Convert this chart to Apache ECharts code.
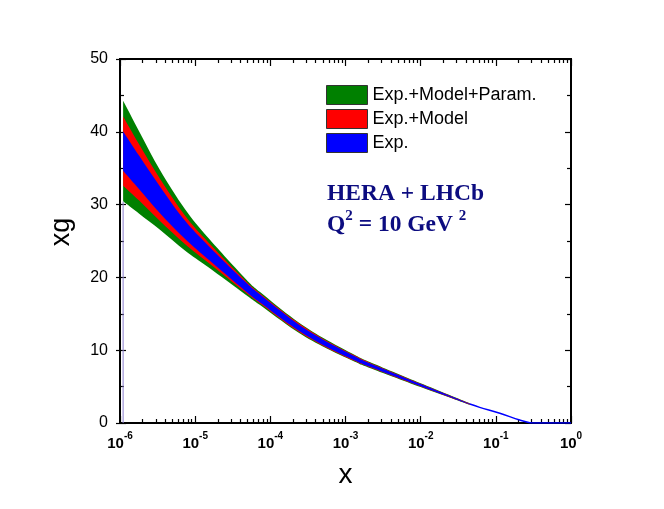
<!DOCTYPE html>
<html>
<head>
<meta charset="utf-8">
<script src="https://cdn.jsdelivr.net/npm/echarts@6/dist/echarts.min.js"></script>
<style>html,body{margin:0;padding:0;background:#fff}#c{width:664px;height:509px}</style>
</head>
<body>
<div id="c"></div>
<script>
// ---- data ----
const bandX   = [1.1e-6, 1.8e-6, 3.4e-6, 7.3e-6, 1.5e-5, 4.6e-5, 7.3e-5, 2.1e-4, 5e-4, 1.33e-3, 2.1e-3, 1e-2, 4.5e-2];
const center  = [37.35, 34.4, 30.65, 26.55, 23.4, 18.8, 17.1, 13.5, 11.1, 8.88, 7.97, 5.2, 2.6];
const hwExp   = [2.7, 2.3, 1.85, 1.25, 0.95, 0.62, 0.55, 0.45, 0.38, 0.3, 0.25, 0.15, 0.05];
const hwModel = [4.75, 3.85, 2.9, 1.95, 1.4, 0.82, 0.7, 0.6, 0.48, 0.38, 0.32, 0.2, 0.08];
const hwParam = [6.9, 5.65, 4.1, 2.85, 2.0, 1.1, 0.9, 0.73, 0.6, 0.46, 0.4, 0.25, 0.1];
const tailX   = [4.5e-2, 6.1e-2, 0.113, 0.208, 0.283, 0.35, 1];
const tailY   = [2.6, 2.15, 1.35, 0.4, 0.05, 0, 0];
const edgeX   = [1.1e-6, 1.1e-6];
const edgeY   = [0, 30.4];
const bandNames = ['Exp.+Model+Param.', 'Exp.+Model', 'Exp.'];
const bandColors = ['#008000', '#ff0000', '#0000ff'];
const xDecades = [1e-6, 1e-5, 1e-4, 1e-3, 1e-2, 1e-1, 1];
const xMinor = [];
for (let e = -6; e < 0; e++) for (let k = 2; k <= 9; k++) xMinor.push(k * Math.pow(10, e));

// ---- helpers: smooth path through pixel points (Catmull-Rom -> Bezier) ----
function curvePath(pts, moveFirst) {
  let d = (moveFirst ? 'M' : 'L') + pts[0][0] + ' ' + pts[0][1];
  for (let i = 0; i < pts.length - 1; i++) {
    const p0 = pts[i - 1] || pts[i], p1 = pts[i], p2 = pts[i + 1], p3 = pts[i + 2] || pts[i + 1];
    const t = 1 / 6;
    const c1 = [p1[0] + (p2[0] - p0[0]) * t, p1[1] + (p2[1] - p0[1]) * t];
    const c2 = [p2[0] - (p3[0] - p1[0]) * t, p2[1] - (p3[1] - p1[1]) * t];
    d += 'C' + c1[0] + ' ' + c1[1] + ' ' + c2[0] + ' ' + c2[1] + ' ' + p2[0] + ' ' + p2[1];
  }
  return d;
}

// ---- build ----
const hws = [hwParam, hwModel, hwExp];
const series = [];
hws.forEach((hw, i) => {
  const rows = bandX.map((x, j) => [x, center[j] - hw[j], center[j] + hw[j]]);
  series.push({
    name: bandNames[i], type: 'custom', color: bandColors[i], silent: true, z: 2 + i, clip: true,
    encode: { x: 0, y: [1, 2] },
    data: rows,
    renderItem: function (params, api) {
      if (params.dataIndex !== 0) return null;
      const up = rows.map(r => api.coord([r[0], r[2]]));
      const lo = rows.map(r => api.coord([r[0], r[1]])).reverse();
      const d = curvePath(up, true) + curvePath(lo, false) + 'Z';
      return { type: 'path', shape: { pathData: d }, style: { fill: bandColors[i], stroke: null } };
    }
  });
});
series.push({
  name: 'tail', type: 'line', symbol: 'none', smooth: 0.4, silent: true,
  lineStyle: { color: '#0000ff', width: 1.5 }, data: tailX.map((x, j) => [x, tailY[j]]), z: 6
});
series.push({
  name: 'edge', type: 'line', symbol: 'none', silent: true,
  lineStyle: { color: '#8c7fd0', width: 1 }, data: edgeX.map((x, j) => [x, edgeY[j]]), z: 6
});

const lineStyle = { color: '#000', width: 2 };
function xAx(pos, major, labels) {
  return {
    type: 'log', logBase: 10, min: 1e-6, max: 1, position: pos,
    axisLine: { show: true, onZero: false, lineStyle: lineStyle },
    splitLine: { show: false },
    axisTick: { show: true, inside: true, length: major ? 7 : 4, lineStyle: { color: '#000', width: 1.2 },
                customValues: major ? xDecades : xMinor },
    axisLabel: labels ? {
      show: true, margin: 8, customValues: xDecades,
      formatter: v => '{b|10}{e|' + Math.round(Math.log10(v)) + '}',
      rich: {
        b: { fontFamily: 'Liberation Sans', fontWeight: 'bold', fontSize: 15, color: '#000', lineHeight: 20, verticalAlign: 'bottom' },
        e: { fontFamily: 'Liberation Sans', fontWeight: 'bold', fontSize: 10, color: '#000', lineHeight: 11, verticalAlign: 'top' }
      }
    } : { show: false }
  };
}
function yAx(pos, labels, outTicks) {
  return {
    type: 'value', min: 0, max: 50, interval: 10, position: pos,
    axisLine: { show: !outTicks, onZero: false, lineStyle: lineStyle },
    splitLine: { show: false },
    axisTick: { show: true, inside: !outTicks, length: outTicks ? 4 : 6, lineStyle: { color: '#000', width: 1.2 } },
    minorTick: { show: !outTicks, splitNumber: 2, length: 4, lineStyle: { color: '#000', width: 1.2 } },
    axisLabel: labels ? { show: true, margin: 12, fontFamily: 'Liberation Sans', fontSize: 16, color: '#000' } : { show: false },
    name: labels ? 'xg' : '', nameLocation: 'middle', nameRotate: 90, nameGap: 45,
    nameTextStyle: { fontFamily: 'Liberation Sans', fontSize: 27, color: '#000', padding: [0, 0, 0, 18] }
  };
}
const xAxes = [xAx('bottom', true, true), xAx('bottom', false, false), xAx('top', true, false), xAx('top', false, false)];
xAxes[0].name = 'x';
xAxes[0].nameLocation = 'middle';
xAxes[0].nameGap = 38;
xAxes[0].nameTextStyle = { fontFamily: 'Liberation Sans', fontSize: 28, color: '#000' };

const chart = echarts.init(document.getElementById('c'), null, { renderer: 'canvas' });
chart.setOption({
  animation: false,
  backgroundColor: '#fff',
  grid: { left: 120, right: 93, top: 59, bottom: 86, containLabel: false },
  xAxis: xAxes,
  yAxis: [yAx('left', true, false), yAx('right', false, false), yAx('left', false, true)],
  legend: {
    orient: 'vertical', left: 321, top: 80, itemWidth: 41, itemHeight: 19, itemGap: 4,
    icon: 'rect', selectedMode: false,
    textStyle: { fontFamily: 'Liberation Sans', fontSize: 18, color: '#000' },
    data: bandNames.map((n, i) => ({ name: n, icon: 'rect', itemStyle: { color: bandColors[i], borderColor: '#333', borderWidth: 1 } }))
  },
  graphic: [
    { type: 'text', left: 327, top: 182, style: { text: 'HERA + LHCb', font: 'bold 23.5px "Liberation Serif"', fill: '#0c0c80' } },
    { type: 'text', left: 327, top: 209, style: {
      text: '{a|Q}{s|2}{a| = 10 GeV }{s|2}',
      rich: {
        a: { font: 'bold 23.5px "Liberation Serif"', fill: '#0c0c80', lineHeight: 28, verticalAlign: 'bottom' },
        s: { font: 'bold 15px "Liberation Serif"', fill: '#0c0c80', lineHeight: 15, verticalAlign: 'top' }
      }
    } }
  ],
  series: series
});
</script>
</body>
</html>
